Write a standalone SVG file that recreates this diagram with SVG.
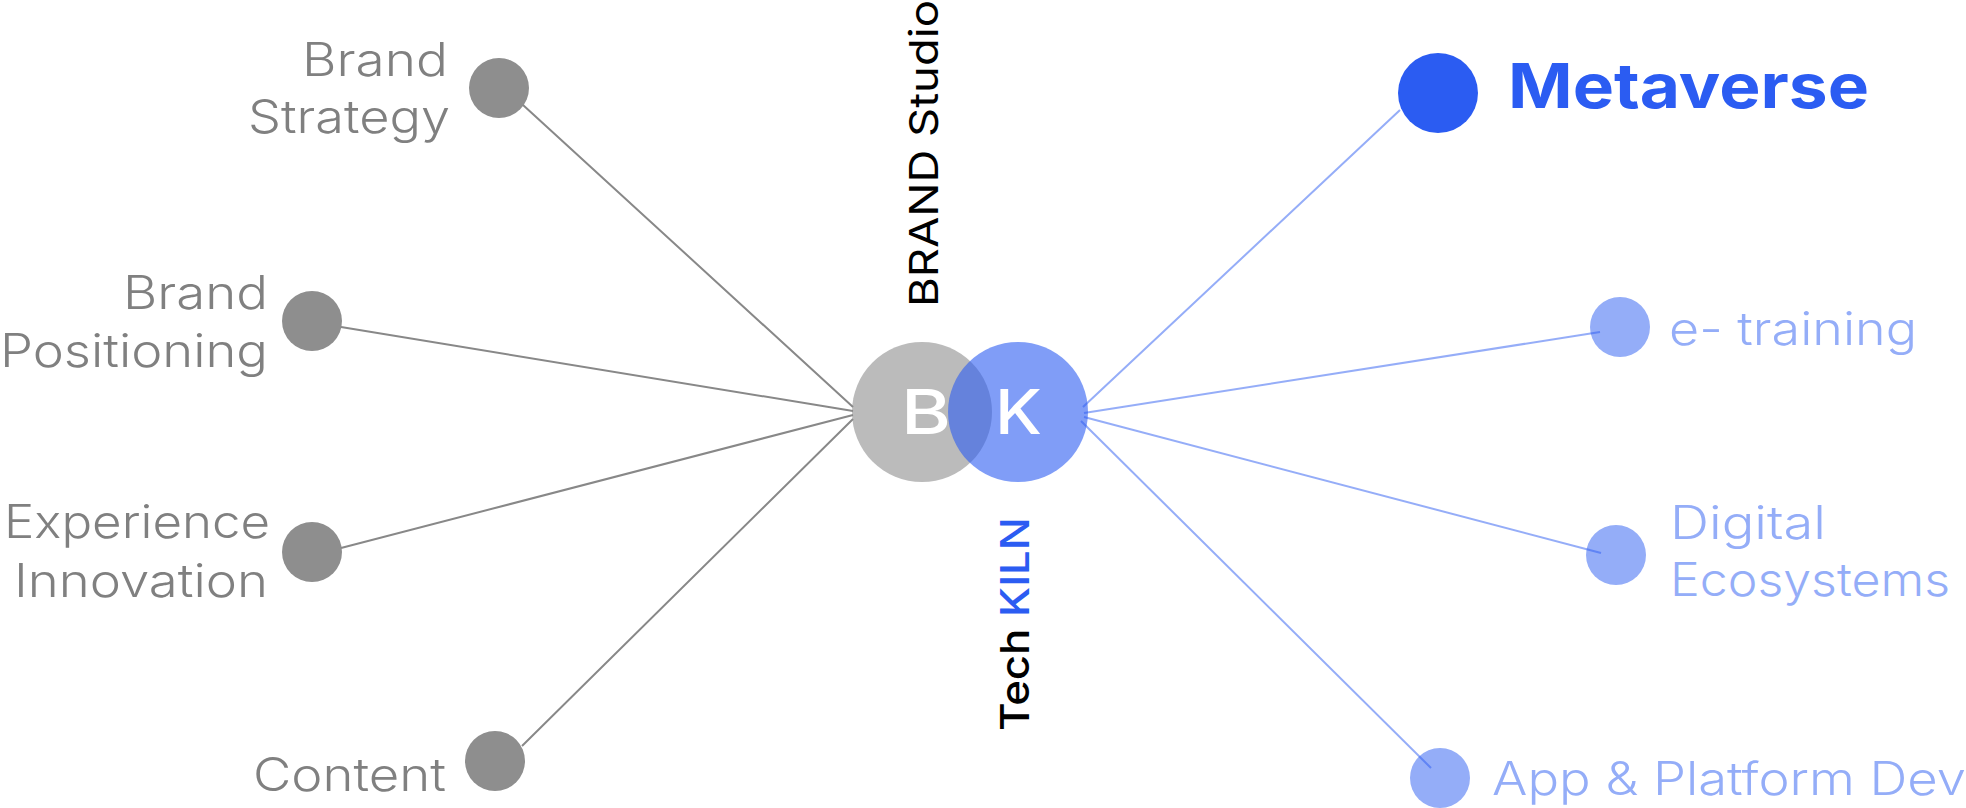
<svg xmlns="http://www.w3.org/2000/svg" width="1966" height="808" viewBox="0 0 1966 808">
<style>
text{font-family:Inter,"Noto Sans","Liberation Sans",sans-serif}
.l{font-size:46px;font-weight:300}
.g{fill:#808080}
.b{fill:#94adf8}
.dg{fill:#8e8e8e}
.db{fill:#94adf8}
.cg{stroke:#888;stroke-width:2;fill:none}
.cb{stroke:#2b5cf2;stroke-opacity:.5;stroke-width:2;fill:none}
.v{font-size:40px}
</style>
<rect width="1966" height="808" fill="#fff"/>
<g id="center">
<circle cx="922" cy="412" r="70" fill="#8e8e8e" fill-opacity=".6"/>
<circle cx="1018" cy="412" r="70" fill="#2b5cf2" fill-opacity=".6"/>
<text x="901" y="434" font-size="62" font-weight="500" fill="#fff" textLength="50" lengthAdjust="spacingAndGlyphs">B</text>
<text x="995" y="434" font-size="62" font-weight="500" fill="#fff" textLength="47" lengthAdjust="spacingAndGlyphs">K</text>
</g>
<g id="brand-studio"><text class="v" transform="translate(938 307) rotate(-90)" textLength="307" lengthAdjust="spacingAndGlyphs" style="font-weight:400">BRAND Studio</text></g>
<g id="tech-kiln"><text class="v" transform="translate(1029 731) rotate(-90)" textLength="214" lengthAdjust="spacingAndGlyphs" style="font-weight:500">Tech <tspan fill="#2b5cf2">KILN</tspan></text></g>
<g id="brand-strategy"><circle class="dg" cx="499" cy="88" r="30"/><text class="l g" x="302" y="76" textLength="146" lengthAdjust="spacingAndGlyphs">Brand</text><text class="l g" x="248" y="133" textLength="202" lengthAdjust="spacingAndGlyphs">Strategy</text></g>
<g id="brand-positioning"><circle class="dg" cx="312" cy="321" r="30"/><text class="l g" x="123" y="309" textLength="145" lengthAdjust="spacingAndGlyphs">Brand</text><text class="l g" x="0" y="367" textLength="268" lengthAdjust="spacingAndGlyphs">Positioning</text></g>
<g id="experience-innovation"><circle class="dg" cx="312" cy="552" r="30"/><text class="l g" x="4" y="538" textLength="266" lengthAdjust="spacingAndGlyphs">Experience</text><text class="l g" x="14" y="597" textLength="254" lengthAdjust="spacingAndGlyphs">Innovation</text></g>
<g id="content"><circle class="dg" cx="495" cy="761" r="30"/><text class="l g" x="253" y="791" textLength="193" lengthAdjust="spacingAndGlyphs">Content</text></g>
<g id="metaverse"><circle cx="1438" cy="93" r="40" fill="#2b5cf2"/><text x="1508" y="108" font-size="62" font-weight="700" fill="#2b5cf2" textLength="361" lengthAdjust="spacingAndGlyphs">Metaverse</text></g>
<g id="e-training"><circle class="db" cx="1620" cy="327" r="30"/><text class="l b" x="1669" y="345" textLength="248" lengthAdjust="spacingAndGlyphs">e- training</text></g>
<g id="digital-ecosystems"><circle class="db" cx="1616" cy="555" r="30"/><text class="l b" x="1670" y="539" textLength="156" lengthAdjust="spacingAndGlyphs">Digital</text><text class="l b" x="1670" y="596" textLength="280" lengthAdjust="spacingAndGlyphs">Ecosystems</text></g>
<g id="app-platform"><circle class="db" cx="1440" cy="778" r="30"/><text class="l b" x="1492" y="795" textLength="474" lengthAdjust="spacingAndGlyphs">App &amp; Platform Dev</text></g>
<g id="connectors">
<path class="cg" d="M523 105L853 407M341 327L853 411M341 548L853 415M522 746L853 419"/>
<path class="cb" d="M1400 110L1083 407M1600 332L1084 413M1601 553L1084 417M1431 768L1081 421"/>
</g>
</svg>
